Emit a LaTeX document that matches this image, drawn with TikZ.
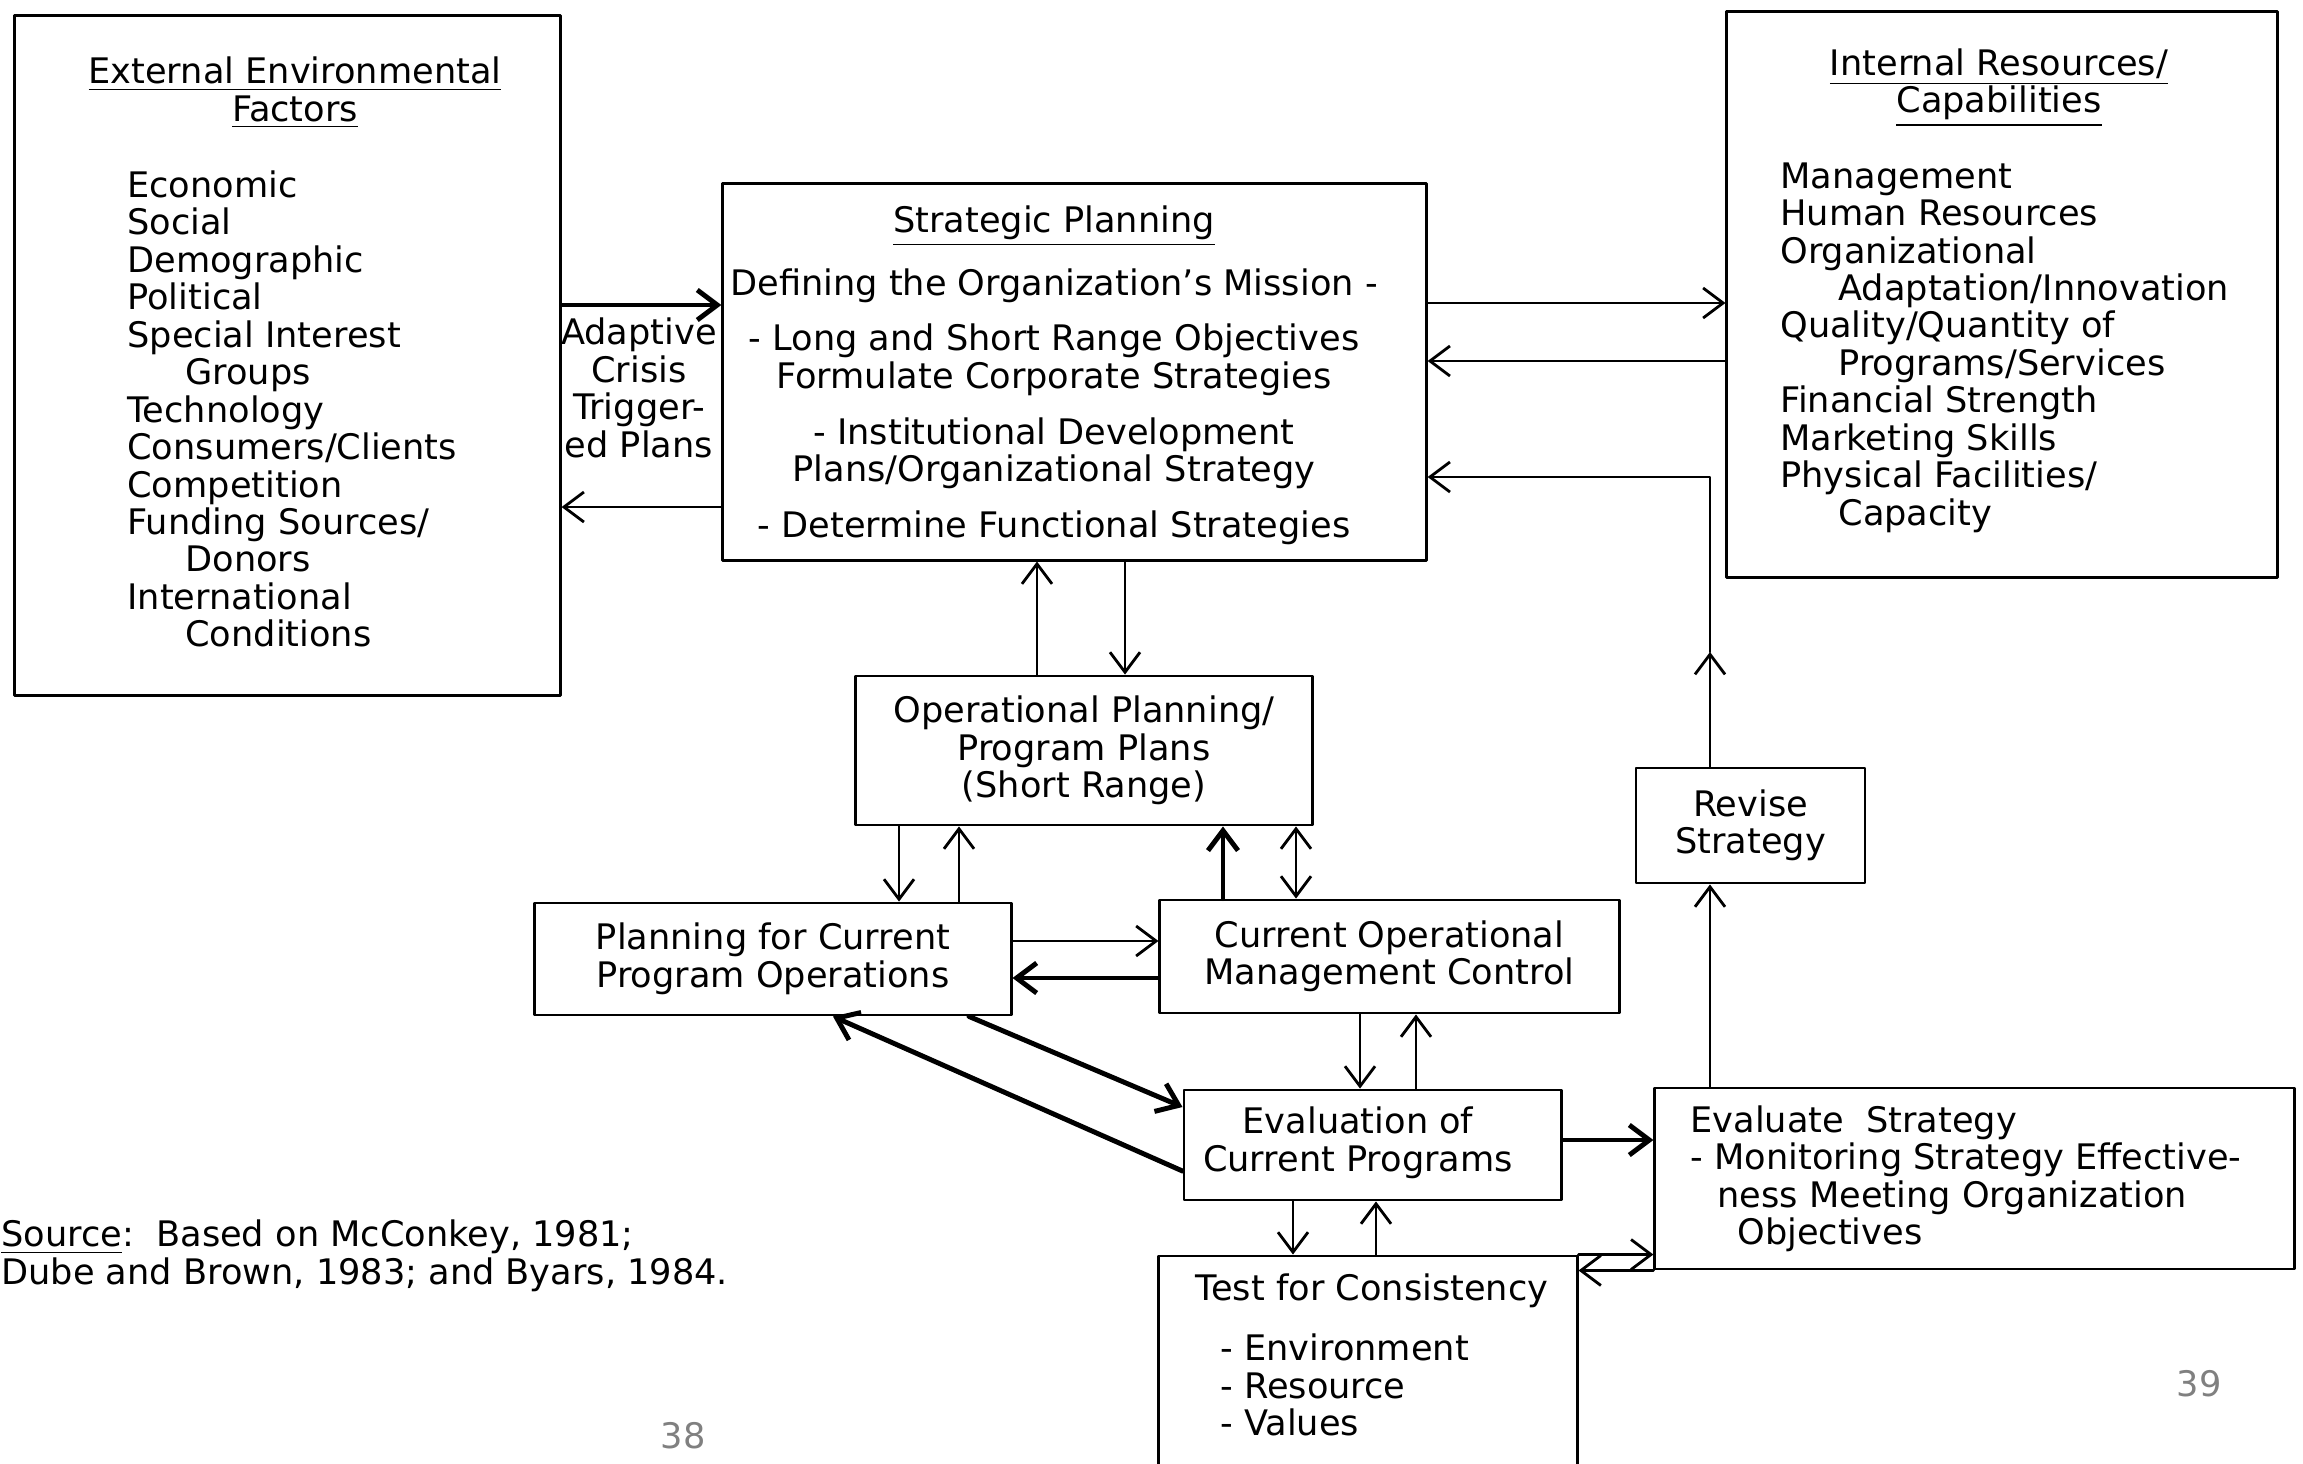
\documentclass[tikz,border=0pt]{standalone}
\usepackage{fontspec}
\setmainfont{DejaVu Sans}
\usetikzlibrary{arrows.meta}
\newcommand{\ind}{\hspace*{5.8mm}}

\begin{document}
\begin{tikzpicture}[x=0.01cm, y=-0.01cm, line width=0.8pt, line join=round, line cap=round,
		>={Straight Barb[length=2mm,width=3mm]},
		font=\fontsize{10}{10.65}\selectfont,
		box/.style={draw, inner sep=0pt, align=center},
		txt/.style={inner sep=0pt, align=left},
		heavy/.style={line width=1.4pt}]
			\useasboundingbox (0,0) rectangle (2303,1463);
			% boxes
			\node[box, minimum width=5.45cm, minimum height=6.79cm] (ext) at (287.5,355.5) {};
			\node[box, minimum width=7.03cm, minimum height=3.76cm] (sp) at (1074.5,372) {};
			\node[box, minimum width=5.50cm, minimum height=5.65cm] (int) at (2002,294.5) {};
			\node[box, minimum width=4.56cm, minimum height=1.49cm] (op) at (1084,750.5) {Operational Planning/\\Program Plans\\(Short Range)};
			\node[box, minimum width=4.76cm, minimum height=1.12cm] (pcur) at (773,959) {Planning for Current\\Program Operations};
			\node[box, minimum width=4.59cm, minimum height=1.13cm] (cop) at (1389.5,956.5) {Current Operational\\Management Control};
			\node[box, minimum width=3.77cm, minimum height=1.10cm] (eval) at (1372.5,1145) {};
			\node[box, minimum width=6.39cm, minimum height=1.81cm] (evs) at (1974.5,1178.5) {};
			\node[box, minimum width=2.29cm, minimum height=1.15cm] (rev) at (1750.5,825.5) {Revise\\Strategy};
			\node[box, minimum width=4.18cm, minimum height=2.30cm] (test) at (1368,1371) {};
			% texts
			\node[txt, align=center] (exttitle) at (295,93) {\underline{External Environmental}\\\underline{Factors}};
			\node[txt, anchor=west] (extlist) at (126,409) {Economic\\Social\\Demographic\\Political\\Special Interest\\\ind Groups\\Technology\\Consumers/Clients\\Competition\\Funding Sources/\\\ind Donors\\International\\\ind Conditions};
			\node[txt, align=center] (adapt) at (639,388) {Adaptive\\Crisis\\Trigger-\\ed Plans};
			\node[txt, align=center] (sptext) at (1054,375) {\underline{Strategic Planning}\\[5.2pt]
				Defining the Organization's Mission -\\[5.2pt]
				- Long and Short Range Objectives\\Formulate Corporate Strategies\\[5.2pt]
				- Institutional Development\\Plans/Organizational Strategy\\[5.2pt]
				- Determine Functional Strategies};
			\node[txt, align=center] (inttitle) at (1999,88) {\underline{Internal Resources/}\\\underline{Capabilities}};
			\node[txt, anchor=west] (intlist) at (1779,347.5) {Management\\Human Resources\\Organizational\\\ind Adaptation/Innovation\\Quality/Quantity of\\\ind Programs/Services\\Financial Strength\\Marketing Skills\\Physical Facilities/\\\ind Capacity};
			\node[txt, align=center] (evaltext) at (1358,1143) {Evaluation of\\Current Programs};
			\node[txt, anchor=west] (evstext) at (1689,1179) {Evaluate\ \ Strategy\\- Monitoring Strategy Effective-\\\hspace*{2.7mm}ness Meeting Organization\\\hspace*{4.7mm}Objectives};
			\node[txt] (testtitle) at (1372,1291) {Test for Consistency};
			\node[txt, anchor=west] (testlist) at (1219,1385) {- Environment\\- Resource\\- Values};
			\node[txt, anchor=west] (src) at (0,1256) {\underline{Source}:\ \ Based on McConkey, 1981;\\Dube and Brown, 1983; and Byars, 1984.};
			\node[text=gray] (pg38) at (683,1436) {38};
			\node[text=gray] (pg39) at (2199,1384) {39};
			% connectors
			\draw[->, heavy] (ext.east |- 0,305) -- (sp.west |- 0,305);
			\draw[->] (sp.west |- 0,507) -- (ext.east |- 0,507);
			\draw[->] (sp.east |- 0,303) -- (int.west |- 0,303);
			\draw[->] (int.west |- 0,361) -- (sp.east |- 0,361);
			\draw[->] (op.north -| 1037,0) -- (sp.south -| 1037,0);
			\draw[->] (sp.south -| 1125,0) -- (op.north -| 1125,0);
			\draw[->] (op.south -| 899,0) -- (pcur.north -| 899,0);
			\draw[->] (pcur.north -| 959,0) -- (op.south -| 959,0);
			\draw[->, heavy] (cop.north -| 1223,0) -- (op.south -| 1223,0);
			\draw[<->] (op.south -| 1296,0) -- (cop.north -| 1296,0);
			\draw[->] (pcur.east |- 0,941) -- (cop.west |- 0,941);
			\draw[->, heavy] (cop.west |- 0,978) -- (pcur.east |- 0,978);
			\draw[->] (cop.south -| 1360,0) -- (eval.north -| 1360,0);
			\draw[->] (eval.north -| 1416,0) -- (cop.south -| 1416,0);
			\draw[->, heavy] (pcur.south -| 969,0) -- (eval.west |- 0,1107);
			\draw[->, heavy] (eval.west |- 0,1171) -- (pcur.south -| 833,0);
			\draw[->, heavy] (eval.east |- 0,1140) -- (evs.west |- 0,1140);
			\draw[->] (evs.north -| 1710,0) -- (rev.south -| 1710,0);
			\coordinate (tip) at (1710,652);
			\coordinate (turn) at (1710,477);
			\draw[->] (rev.north -| tip) -- (tip);
			\draw[->] (tip) -- (turn) -- (sp.east |- turn);
			\draw[->] (eval.south -| 1293,0) -- (test.north -| 1293,0);
			\draw[->] (test.north -| 1376,0) -- (eval.south -| 1376,0);
			\draw[->] (test.north east) -- (evs.west |- test.north);
			\draw[->] (evs.south west) -- (test.east |- evs.south);
	\end{tikzpicture}
\end{document}
